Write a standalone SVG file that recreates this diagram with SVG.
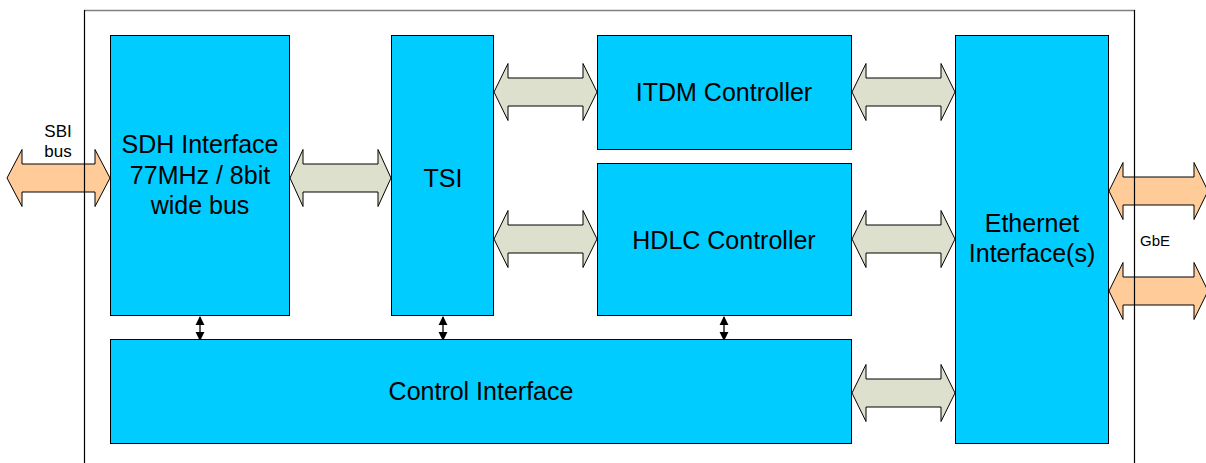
<svg xmlns="http://www.w3.org/2000/svg" width="1206" height="463" viewBox="0 0 1206 463">
<style>
.box{fill:#00CCFF;stroke:#000;stroke-width:1}
.ga{fill:#DDE0CC;stroke:#000;stroke-width:1;stroke-linejoin:miter}
.oa{fill:#FFCC99;stroke:#000;stroke-width:1}
.lbl{font-family:"Liberation Sans",Arial,sans-serif;font-size:25px;fill:#000;text-anchor:middle}
.sm{font-family:"Liberation Sans",Arial,sans-serif;font-size:17px;fill:#000;text-anchor:middle}
.v{stroke:#000;stroke-width:1.3;fill:none}
</style>
<defs>
<marker id="ah" viewBox="0 0 10 10" refX="9" refY="5" markerWidth="9" markerHeight="10" markerUnits="userSpaceOnUse" orient="auto-start-reverse">
<path d="M0,0 L10,5 L0,10 Z" fill="#000"/>
</marker>
</defs>
<rect width="1206" height="463" fill="#fff"/>
<g id="connectors">
<polygon class="oa" points="7,178 22,149.5 22,164 95,164 95,149.5 110,178 95,206.5 95,192 22,192 22,206.5"/>
<polygon class="ga" points="290,178 303,149.5 303,164 378,164 378,149.5 391,178 378,206.5 378,192 303,192 303,206.5"/>
<polygon class="ga" points="494,92 508,63.5 508,78 583,78 583,63.5 597,92 583,120.5 583,106 508,106 508,120.5"/>
<polygon class="ga" points="494,239 508,210.5 508,225 583,225 583,210.5 597,239 583,267.5 583,253 508,253 508,267.5"/>
<polygon class="ga" points="852,92 866,63.5 866,78 941,78 941,63.5 955,92 941,120.5 941,106 866,106 866,120.5"/>
<polygon class="ga" points="852,239 866,210.5 866,225 941,225 941,210.5 955,239 941,267.5 941,253 866,253 866,267.5"/>
<polygon class="ga" points="852,393 866,364.5 866,379 941,379 941,364.5 955,393 941,421.5 941,407 866,407 866,421.5"/>
<polygon class="oa" points="1109,191 1123,162.5 1123,177 1194,177 1194,162.5 1208,191 1194,219.5 1194,205 1123,205 1123,219.5"/>
<polygon class="oa" points="1109,291 1123,262.5 1123,277 1194,277 1194,262.5 1208,291 1194,319.5 1194,305 1123,305 1123,319.5"/>
<line class="v" x1="200" y1="317" x2="200" y2="340" marker-start="url(#ah)" marker-end="url(#ah)"/>
<line class="v" x1="443" y1="317" x2="443" y2="340" marker-start="url(#ah)" marker-end="url(#ah)"/>
<line class="v" x1="724" y1="317" x2="724" y2="340" marker-start="url(#ah)" marker-end="url(#ah)"/>
</g>
<g id="frame">
<line x1="84.5" y1="10.5" x2="1134.5" y2="10.5" stroke="#808080" stroke-width="1.5"/>
<line x1="84.5" y1="10" x2="84.5" y2="463" stroke="#000" stroke-width="1.2"/>
<line x1="1134.5" y1="10" x2="1134.5" y2="463" stroke="#000" stroke-width="1.2"/>
</g>
<g id="sdh">
<rect class="box" x="110.5" y="35.5" width="179" height="280"/>
<text class="lbl" x="200" y="153">SDH Interface</text>
<text class="lbl" x="200" y="184">77MHz / 8bit</text>
<text class="lbl" x="200" y="214">wide bus</text>
</g>
<g id="tsi">
<rect class="box" x="391.5" y="35.5" width="102" height="280"/>
<text class="lbl" x="443" y="187">TSI</text>
</g>
<g id="itdm">
<rect class="box" x="597.5" y="35.5" width="254" height="114"/>
<text class="lbl" x="724" y="101">ITDM Controller</text>
</g>
<g id="hdlc">
<rect class="box" x="597.5" y="163.5" width="254" height="152"/>
<text class="lbl" x="724" y="249">HDLC Controller</text>
</g>
<g id="ethernet">
<rect class="box" x="955.5" y="35.5" width="153" height="408"/>
<text class="lbl" x="1032" y="232">Ethernet</text>
<text class="lbl" x="1032" y="262">Interface(s)</text>
</g>
<g id="control">
<rect class="box" x="110.5" y="339.5" width="741" height="104"/>
<text class="lbl" x="481" y="400">Control Interface</text>
</g>
<g id="labels">
<text class="sm" x="58" y="137">SBI</text>
<text class="sm" x="58" y="157">bus</text>
<text class="sm" x="1155" y="246" style="font-size:15px">GbE</text>
</g>
</svg>
